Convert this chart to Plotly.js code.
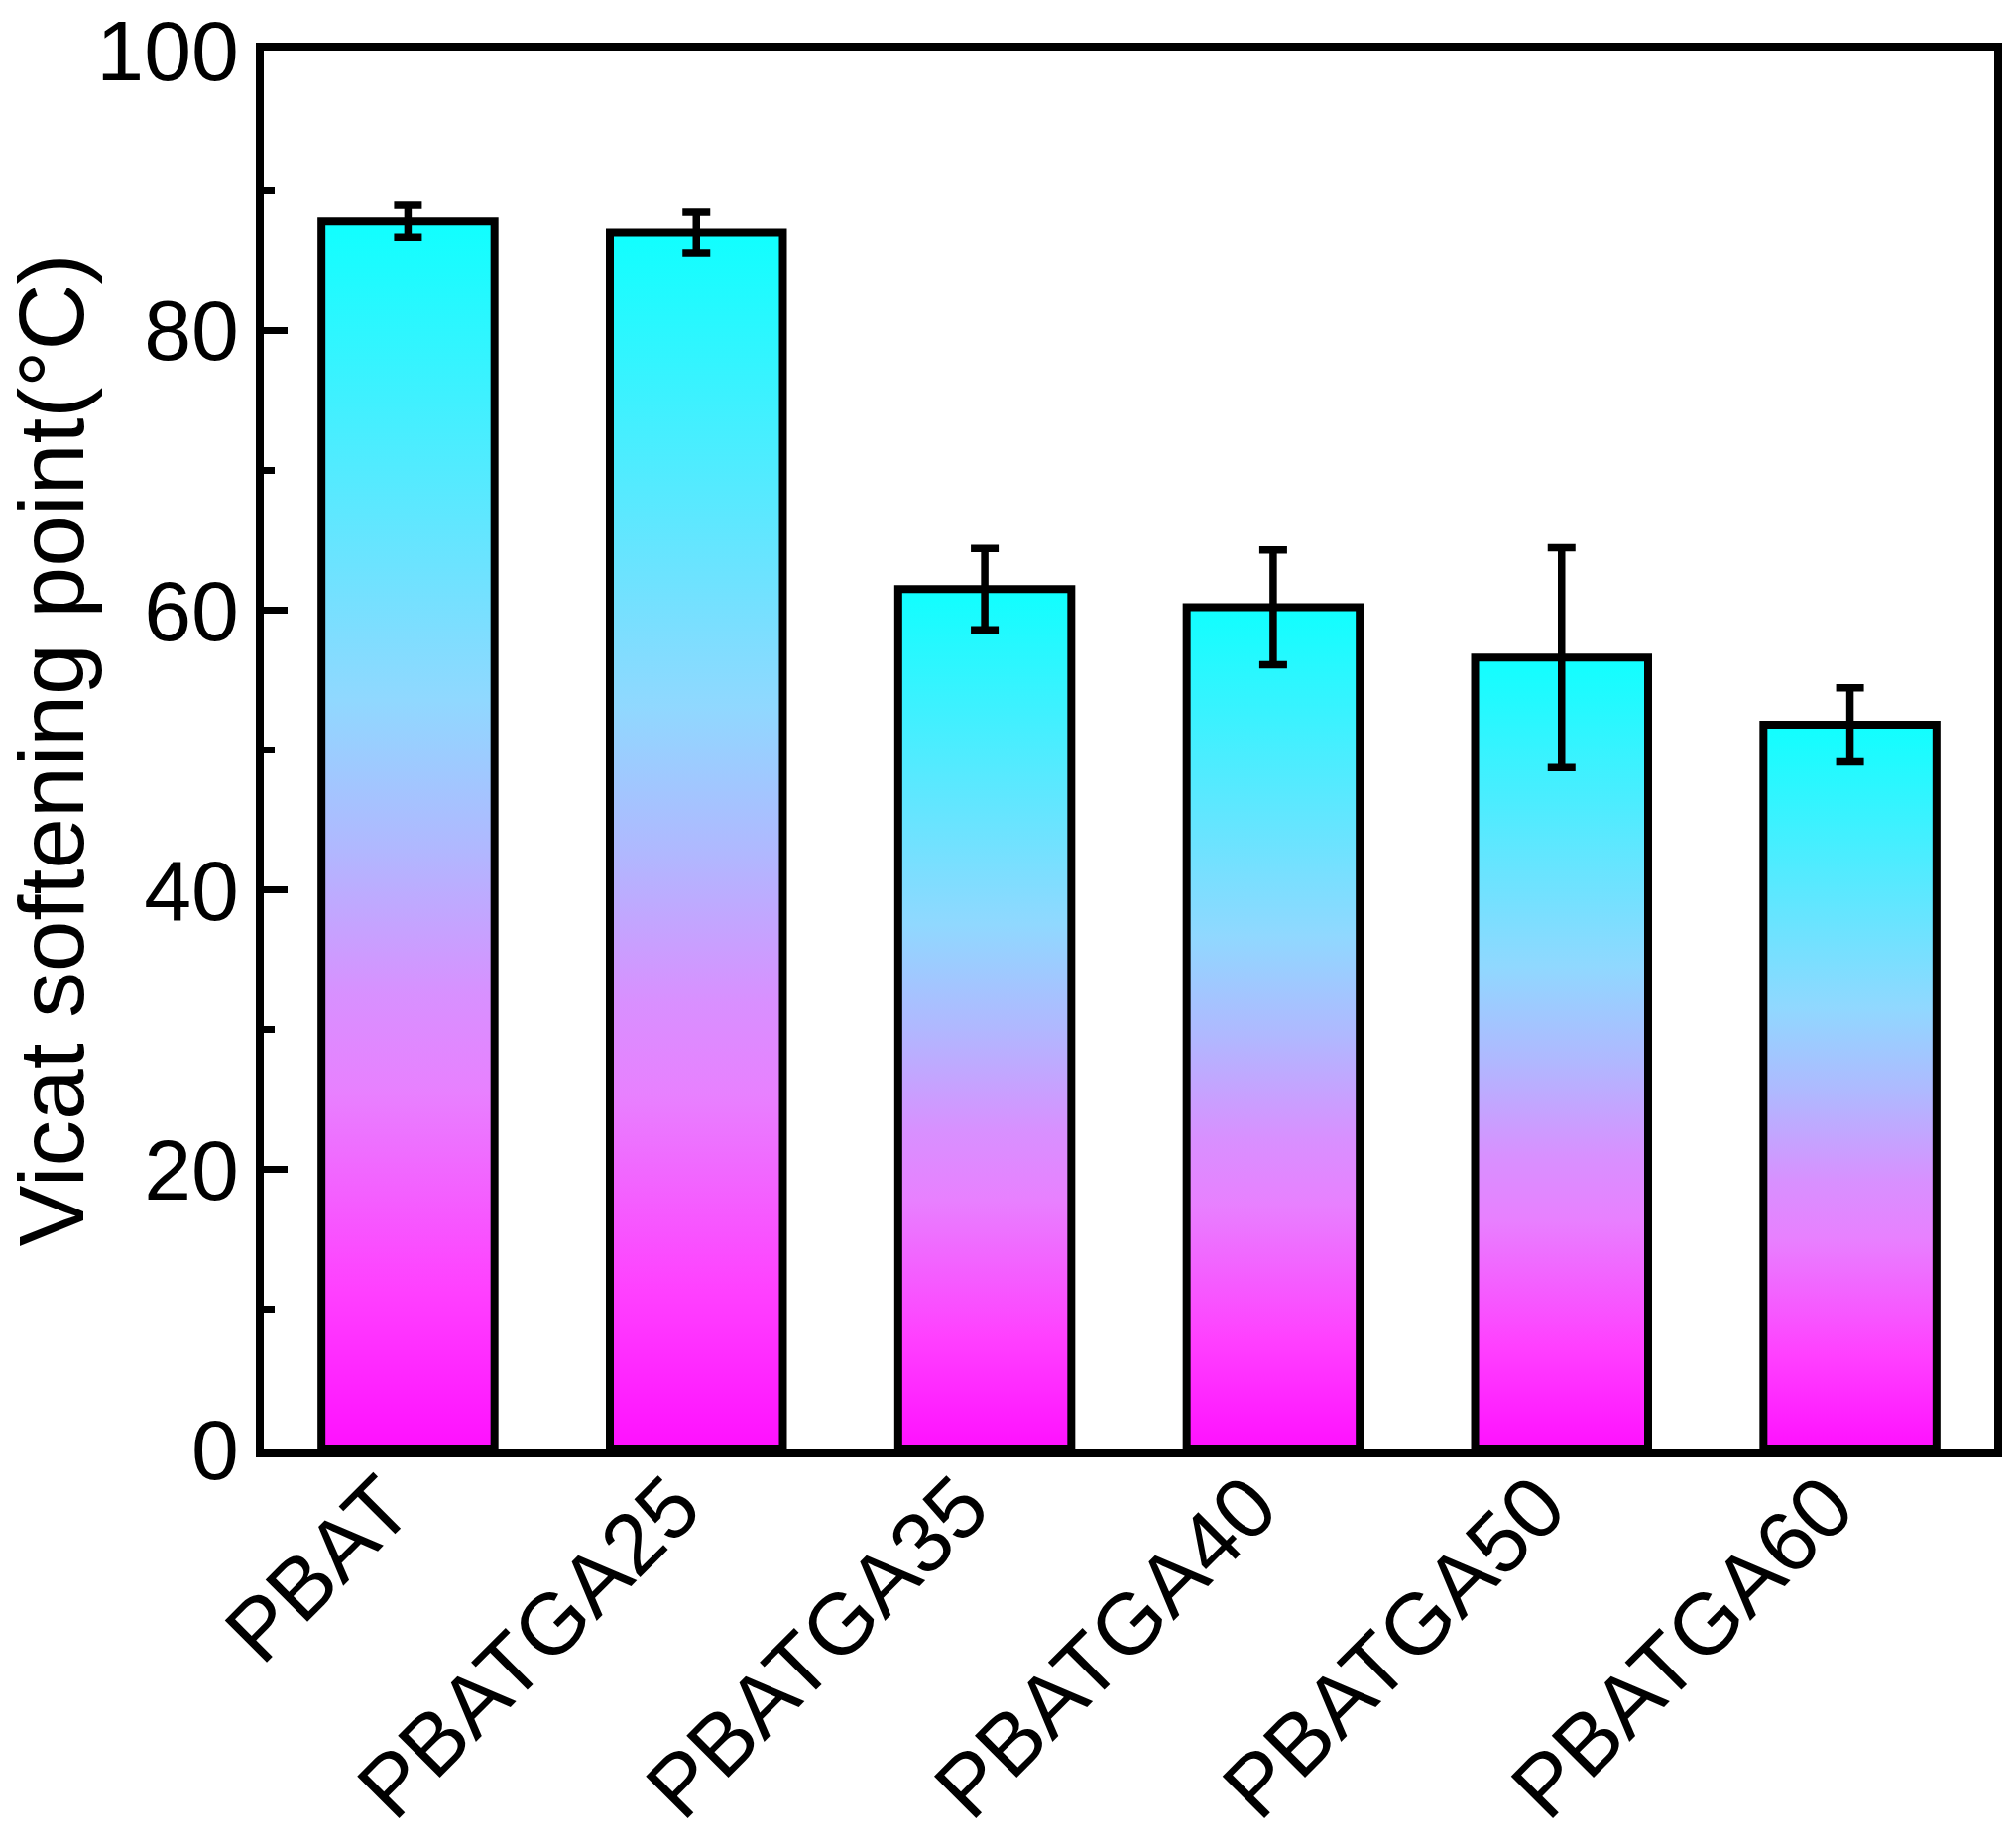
<!DOCTYPE html>
<html>
<head>
<meta charset="utf-8">
<script src="https://cdn.plot.ly/plotly-3.0.1.min.js"></script>
<style>html,body{margin:0;padding:0;background:#fff;}#chart{width:2033px;height:1859px;}</style>
</head>
<body>
<div id="chart"></div>
<script>
const categories = ["PBAT", "PBATGA25", "PBATGA35", "PBATGA40", "PBATGA50", "PBATGA60"];
const values = [87.8, 87.0, 61.5, 60.2, 56.6, 51.8];
const errors = [1.15, 1.45, 2.9, 4.1, 7.85, 2.65];
const yTickVals = [0, 20, 40, 60, 80, 100];

const FONT = "Liberation Sans, Arial, Helvetica, sans-serif";
const barWidth = 0.6;
const gradient = [
  [0, "#ff10ff"], [0.13, "#ff40ff"], [0.29, "#e880ff"], [0.37, "#d890ff"],
  [0.49, "#b0b8ff"], [0.61, "#90d8ff"], [1, "#10ffff"]
];

const traces = [];
categories.forEach((c, i) => {
  const x0 = i - barWidth / 2, x1 = i + barWidth / 2;
  traces.push({
    type: "scatter", mode: "lines",
    x: [x0, x0, x1, x1, x0],
    y: [0, values[i], values[i], 0, 0],
    fill: "toself",
    fillgradient: { type: "vertical", colorscale: gradient, start: 0, stop: values[i] },
    line: { color: "#000", width: 8 },
    hoverinfo: "skip", showlegend: false
  });
});
traces.push({
  type: "scatter", mode: "markers",
  x: categories.map((c, i) => i), y: values,
  marker: { size: 1, opacity: 0 },
  error_y: { type: "data", array: errors, visible: true, color: "#000", thickness: 7.5, width: 14 },
  showlegend: false
});

const layout = {
  width: 2033, height: 1859,
  margin: { l: 266, r: 22, t: 51, b: 397 },
  paper_bgcolor: "#fff", plot_bgcolor: "#fff",
  showlegend: false,
  font: { family: FONT, color: "#000" },
  xaxis: {
    range: [-0.5, 5.5], tickvals: categories.map((c, i) => i), ticktext: categories,
    tickangle: -45, ticks: "", showgrid: false, zeroline: false,
    showline: true, mirror: true, linecolor: "#000", linewidth: 8,
    ticklabelshift: -22, ticklabelstandoff: -36,
    tickfont: { family: FONT, size: 87, color: "#000" }
  },
  yaxis: {
    range: [0, 100], tickvals: yTickVals, ticks: "inside", ticklen: 24, tickwidth: 7, tickcolor: "#000",
    minor: { dtick: 10, tick0: 0, ticks: "inside", ticklen: 11, tickwidth: 7, tickcolor: "#000", showgrid: false },
    showgrid: false, zeroline: false,
    showline: true, mirror: true, linecolor: "#000", linewidth: 8,
    tickfont: { family: FONT, size: 86, color: "#000" },
    title: { text: "Vicat softening point(°C)", font: { family: FONT, size: 93, color: "#000" }, standoff: 20 }
  }
};

Plotly.newPlot("chart", traces, layout, { staticPlot: true, displayModeBar: false });
</script>
</body>
</html>
